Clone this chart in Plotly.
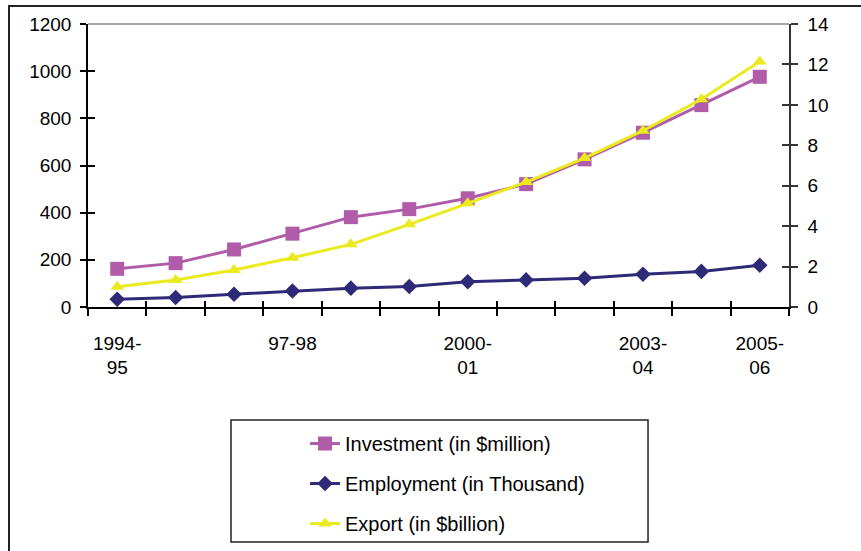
import plotly.graph_objects as go

categories = ["1994-95", "1995-96", "1996-97", "97-98", "1998-99", "1999-00",
              "2000-01", "2001-02", "2002-03", "2003-04", "2004-05", "2005-06"]
label_idx = [0, 3, 6, 9, 11]
label_text = ["1994-<br>95", "97-98", "2000-<br>01", "2003-<br>04", "2005-<br>06"]

investment = [162, 186, 244, 311, 381, 415, 461, 521, 626, 739, 856, 976]
employment = [33, 40, 54, 68, 80, 87, 107, 115, 122, 139, 151, 177]
export = [1.0, 1.34, 1.83, 2.44, 3.1, 4.09, 5.13, 6.18, 7.37, 8.72, 10.28, 12.14]

x = list(range(len(categories)))

C_INV = "#B05CA8"
C_EMP = "#2E2A78"
C_EXP = "#EAEA1E"
FONT = "Liberation Sans, Arial, sans-serif"

fig = go.Figure()
fig.add_trace(go.Scatter(x=x, y=investment, name="Investment (in $million)",
                         mode="lines+markers", legendgroup="a",
                         line=dict(color=C_INV, width=3),
                         marker=dict(symbol="square", size=14, color=C_INV),
                         xaxis="x", yaxis="y"))
fig.add_trace(go.Scatter(x=x, y=employment, name="Employment (in Thousand)",
                         mode="lines+markers", legendgroup="b",
                         line=dict(color=C_EMP, width=3),
                         marker=dict(symbol="diamond", size=12, color=C_EMP),
                         xaxis="x", yaxis="y"))
fig.add_trace(go.Scatter(x=x, y=export, name="Export (in $billion)",
                         mode="lines+markers", legendgroup="c",
                         line=dict(color=C_EXP, width=3),
                         marker=dict(symbol="triangle-up", size=12, color=C_EXP),
                         xaxis="x", yaxis="y2"))

boundaries = [i - 0.5 for i in range(len(categories) + 1)]
xr = [-0.5, len(categories) - 0.5]

fig.update_layout(
    width=861, height=551,
    margin=dict(l=88, r=72, t=24, b=244, autoexpand=False),
    paper_bgcolor="white", plot_bgcolor="white",
    font=dict(family=FONT, size=19, color="black"),
    xaxis=dict(range=xr, tickvals=label_idx, ticktext=label_text, ticks="",
               showgrid=False, zeroline=False, showline=True, linecolor="black",
               linewidth=1.5, tickfont=dict(size=19), ticklabelstandoff=18),
    xaxis2=dict(range=xr, overlaying="x", anchor="y", side="bottom",
                tickvals=boundaries, showticklabels=False, ticks="outside",
                ticklen=8, tickwidth=1.5, tickcolor="black", showgrid=False,
                zeroline=False, showline=False),
    xaxis3=dict(range=xr, overlaying="x", anchor="y", side="bottom",
                tickvals=boundaries, showticklabels=False, ticks="inside",
                ticklen=6, tickwidth=1.5, tickcolor="black", showgrid=False,
                zeroline=False, showline=False),
    yaxis=dict(range=[0, 1200], dtick=200, ticks="outside", ticklen=6,
               tickwidth=1.5, tickcolor="black", showgrid=False, zeroline=False,
               showline=True, linecolor="black", linewidth=1.5,
               ticklabelstandoff=5),
    yaxis3=dict(range=[0, 1200], dtick=200, overlaying="y", anchor="x", side="left",
                ticks="inside", ticklen=7, tickwidth=1.5, tickcolor="black",
                showticklabels=False, showgrid=False, zeroline=False, showline=False),
    yaxis2=dict(range=[0, 14], dtick=2, overlaying="y", anchor="x", side="right",
                ticks="outside", ticklen=7, tickwidth=1.5, tickcolor="#333333",
                showgrid=False, zeroline=False, showline=True, linecolor="#333333",
                linewidth=1.5, ticklabelstandoff=6),
    yaxis4=dict(range=[0, 14], dtick=2, overlaying="y", anchor="x", side="right",
                ticks="inside", ticklen=7, tickwidth=1.5, tickcolor="#333333",
                showticklabels=False, showgrid=False, zeroline=False, showline=False),
    showlegend=True,
    legend=dict(x=0.3096, y=-0.4135, xanchor="left", yanchor="top",
                bgcolor="rgba(0,0,0,0)", borderwidth=0, tracegroupgap=11,
                font=dict(size=20, family=FONT), itemwidth=30),
    shapes=[
        # top grid line at 1200
        dict(type="line", xref="paper", yref="paper", x0=0, x1=1, y0=1, y1=1,
             line=dict(color="#888888", width=1.5)),
        # outer frame
        dict(type="rect", xref="paper", yref="paper", x0=-0.1127, x1=1.12,
             y0=-0.9, y1=1.0636, line=dict(color="#222222", width=2)),
        # legend box
        dict(type="rect", xref="paper", yref="paper", x0=0.204, x1=0.7989,
             y0=-0.8304, y1=-0.3993, line=dict(color="#222222", width=1.5)),
    ],
)

# dummy traces so overlay axes render
for xa, ya in [("x2", "y"), ("x3", "y"), ("x", "y3"), ("x", "y4")]:
    fig.add_trace(go.Scatter(x=[None], y=[None], xaxis=xa, yaxis=ya,
                             showlegend=False, hoverinfo="skip"))

fig.write_html("out.html")
